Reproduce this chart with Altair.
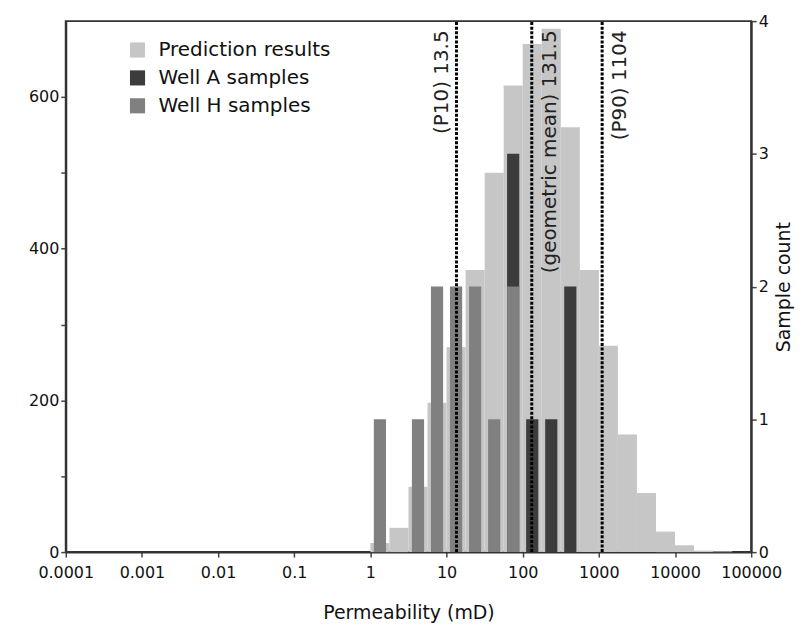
import altair as alt
import pandas as pd

# ---- data ----
# prediction histogram: quarter-decade bins starting at 1 mD (bin k spans 10^(k/4) .. 10^((k+1)/4))
pred_bin_index = list(range(19))
pred_counts = [12, 32, 86, 197, 270, 372, 500, 615, 670, 690, 560, 372, 272, 155, 78, 27, 9, 2, 1]

well_h_bin_index = [0, 2, 3, 4, 5, 6, 7]
well_h_counts = [1, 1, 2, 2, 2, 1, 2]

well_a_bin_index = [7, 8, 9, 10]
well_a_counts = [3, 1, 1, 2]

ref_values = [13.5, 131.5, 1104]
ref_labels = ["(P10) 13.5", "(geometric mean) 131.5", "(P90) 1104"]
ref_side = ["left", "right", "right"]

x_tick_values = [0.0001, 0.001, 0.01, 0.1, 1, 10, 100, 1000, 10000, 100000]
x_tick_labels = ["0.0001", "0.001", "0.01", "0.1", "1", "10", "100", "1000", "10000", "100000"]
left_tick_values = [0, 100, 200, 300, 400, 500, 600]
right_tick_values = [0, 1, 2, 3, 4]

series_names = ["Prediction results", "Well A samples", "Well H samples"]
series_colors = ["#c6c6c6", "#3c3c3c", "#808080"]

FONT = "DejaVu Sans"
BIN_W = 0.25      # decade
SAMPLE_HALF = 0.08  # half width of sample bars, decades

pred_df = pd.DataFrame({
    "lo": [10 ** (k * BIN_W) for k in pred_bin_index],
    "hi": [10 ** ((k + 1) * BIN_W) for k in pred_bin_index],
    "count": pred_counts,
    "series": series_names[0],
})

def sample_df(idx, counts, name):
    return pd.DataFrame({
        "lo": [10 ** ((k + 0.5) * BIN_W - SAMPLE_HALF) for k in idx],
        "hi": [10 ** ((k + 0.5) * BIN_W + SAMPLE_HALF) for k in idx],
        "count": counts,
        "series": name,
    })

a_df = sample_df(well_a_bin_index, well_a_counts, series_names[1])
h_df = sample_df(well_h_bin_index, well_h_counts, series_names[2])

ref_df = pd.DataFrame({"val": ref_values, "label": ref_labels, "side": ref_side})

label_arr = "[" + ",".join("'%s'" % s for s in x_tick_labels) + "]"

xscale = alt.Scale(type="log", domain=[x_tick_values[0], x_tick_values[-1]], nice=False)
xaxis = alt.Axis(
    values=x_tick_values,
    labelExpr=label_arr + "[round(log(datum.value)/LN10)+4]",
    labelOverlap=False,
    labelBound=False,
    labelFlush=False,
    labelPadding=7,
    title="Permeability (mD)",
    titlePadding=24,
    grid=False,
)

color = alt.Color(
    "series:N",
    scale=alt.Scale(domain=series_names, range=series_colors),
    legend=alt.Legend(
        title="",
        orient="none",
        legendX=62,
        legendY=19,
        symbolType="square",
        symbolSize=230,
        symbolStrokeWidth=0,
        labelFontSize=20,
        labelFont=FONT,
        labelColor="#111",
        labelLimit=400,
        rowPadding=8,
        labelOffset=11,
    ),
)

pred = alt.Chart(pred_df).mark_bar(stroke=None).encode(
    x=alt.X("lo:Q", scale=xscale, axis=xaxis),
    x2="hi:Q",
    y=alt.Y(
        "count:Q",
        scale=alt.Scale(domain=[0, 700], nice=False),
        axis=alt.Axis(
            values=left_tick_values,
            labelExpr="datum.value % 200 == 0 ? datum.label : ''",
            title="",
            grid=False,
            orient="left",
        ),
    ),
    y2=alt.datum(0),
    color=color,
)

yright = alt.Scale(domain=[0, 4], nice=False)

a_bars = alt.Chart(a_df).mark_bar().encode(
    x=alt.X("lo:Q", scale=xscale),
    x2="hi:Q",
    y=alt.Y("count:Q", scale=yright,
            axis=alt.Axis(values=right_tick_values, format="d", title="Sample count",
                          orient="right", grid=False, titleAngle=270, titleBaseline="top",
                          titlePadding=6)),
    y2=alt.datum(0),
    color=color,
)
h_bars = alt.Chart(h_df).mark_bar().encode(
    x=alt.X("lo:Q", scale=xscale),
    x2="hi:Q",
    y=alt.Y("count:Q", scale=yright),
    y2=alt.datum(0),
    color=color,
)

rules = alt.Chart(ref_df).mark_rule(color="black", strokeWidth=3, strokeDash=[3, 1.6]).encode(
    x=alt.X("val:Q", scale=xscale),
    y=alt.datum(0, scale=yright),
    y2=alt.datum(4),
)

txt_left = alt.Chart(ref_df[ref_df.side == "left"]).mark_text(
    angle=270, align="right", baseline="bottom", dy=-5, font=FONT, fontSize=20, color="#222"
).encode(
    x=alt.X("val:Q", scale=xscale),
    y=alt.datum(3.93, scale=yright),
    text="label:N",
)
txt_right = alt.Chart(ref_df[ref_df.side == "right"]).mark_text(
    angle=270, align="right", baseline="top", dy=8, font=FONT, fontSize=20, color="#222"
).encode(
    x=alt.X("val:Q", scale=xscale),
    y=alt.datum(3.93, scale=yright),
    text="label:N",
)

right_group = alt.layer(a_bars, h_bars, rules, txt_left, txt_right)

chart = (
    alt.layer(pred, right_group)
    .resolve_scale(y="independent")
    .properties(width=688, height=533, padding={"left": 20, "top": 4, "right": 5, "bottom": 2})
    .configure_view(stroke="#333", strokeWidth=2)
    .configure_axis(
        labelFont=FONT, labelFontSize=16, labelColor="#111",
        titleFont=FONT, titleFontSize=19, titleFontWeight="normal", titleColor="#111",
        domainColor="#333", domainWidth=2, tickColor="#444", tickWidth=1.5, tickSize=5,
    )
)

chart.save("out.html", embed_options={"renderer": "svg", "actions": False})
